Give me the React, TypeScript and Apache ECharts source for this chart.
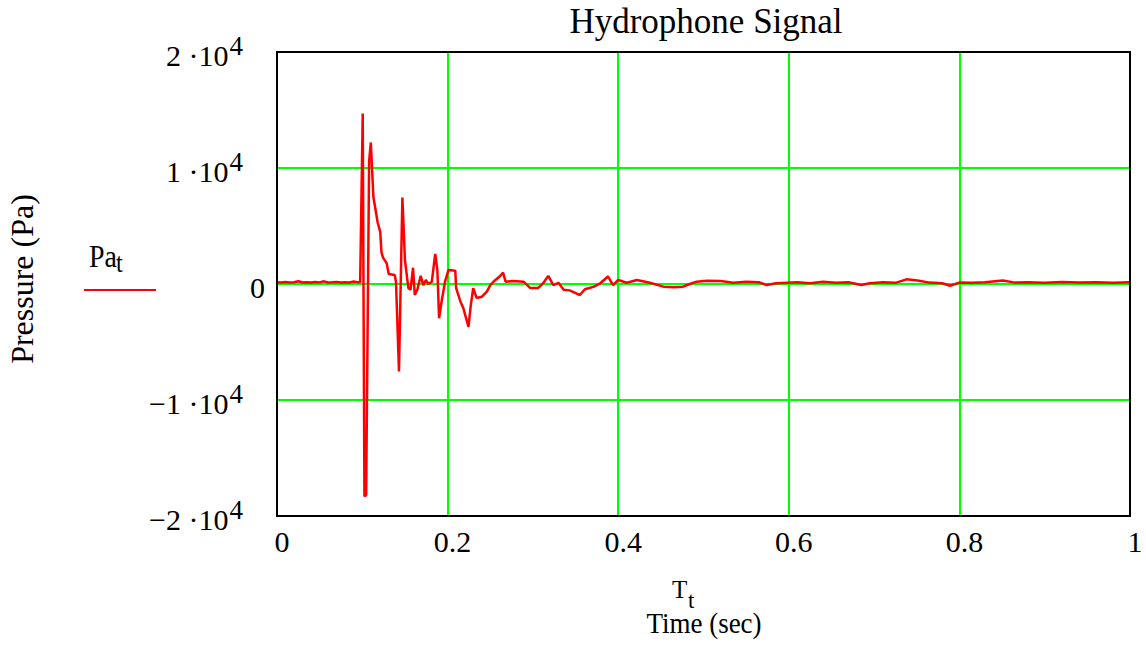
import React, { useEffect, useRef } from "react";
import * as echarts from "echarts";

const chartTitle = "Hydrophone Signal";
const yAxisTitle = "Pressure (Pa)";
const xAxisSymbol = "T";
const xAxisSub = "t";
const xAxisTitle = "Time (sec)";
const legendName = "Pa";
const legendSub = "t";

const xTicks = [0, 0.2, 0.4, 0.6, 0.8, 1];
const yTicks = [-20000, -10000, 0, 10000, 20000];

// time (s)
const timeValues = [
  0.0, 0.005, 0.01, 0.015, 0.02, 0.025, 0.03, 0.035, 0.04, 0.045, 0.05, 0.055, 0.06, 0.065, 0.07, 0.075,
  0.08, 0.085, 0.09, 0.095, 0.0975, 0.1005, 0.1025, 0.1045, 0.108, 0.11, 0.113, 0.116, 0.118, 0.121,
  0.1225, 0.1245, 0.1285, 0.131, 0.138, 0.1395, 0.143, 0.147, 0.15, 0.154, 0.1565, 0.1595, 0.1615,
  0.1645, 0.1685, 0.1715, 0.1745, 0.1775, 0.1815, 0.1855, 0.188, 0.19, 0.193, 0.197, 0.201, 0.209,
  0.21, 0.215, 0.2185, 0.2245, 0.227, 0.23, 0.234, 0.24, 0.246, 0.25, 0.256, 0.261, 0.265, 0.268,
  0.277, 0.289, 0.297, 0.306, 0.312, 0.318, 0.324, 0.33, 0.336, 0.343, 0.351, 0.355, 0.361, 0.371,
  0.379, 0.388, 0.394, 0.4, 0.41, 0.422, 0.437, 0.453, 0.465, 0.476, 0.484, 0.492, 0.504, 0.52,
  0.535, 0.55, 0.565, 0.574, 0.585, 0.598, 0.61, 0.625, 0.64, 0.655, 0.67, 0.685, 0.695, 0.71,
  0.725, 0.738, 0.751, 0.765, 0.78, 0.789, 0.8, 0.815, 0.83, 0.851, 0.865, 0.88, 0.9, 0.92,
  0.94, 0.96, 0.98, 1.0,
];

// pressure (Pa)
const pressureValues = [
  150, 120, 180, 130, 150, 240, 130, 160, 120, 170, 140, 230, 130, 150, 180, 120,
  160, 130, 210, 140, 180, 14700, -18300, -18200, 10600, 12200, 7500, 6200, 5300, 4500,
  2700, 2250, 1800, 860, 780, 200, -7550, 7450, 2050, -350, -500, 1400, -950,
  -500, 700, -100, 350, 0, 200, 2600, 1200, -2950, -1500, 200, 1200, 1150,
  -350, -1500, -2100, -3700, -1950, -350, -1200, -1100, -650, -100, 350, 650, 980, 200,
  250, 200, -350, -350, 60, 700, -100, 100, -500, -550, -800, -950, -450, -250,
  60, 650, -100, 350, 110, 340, 110, -230, -290, -230, 0, 200, 280, 250,
  110, 200, 150, -90, 60, 110, 150, 60, 200, 100, 150, -90, 60, 150,
  100, 400, 300, 120, 60, -150, 120, 100, 150, 300, 120, 150, 100, 180,
  120, 150, 110, 150,
];

const FONT = "'Liberation Serif', 'Times New Roman', serif";

function txt(x: number, y: number, text: string, fontSize: number, align: string, extra: any = {}) {
  return {
    type: "text",
    x,
    y,
    ...extra,
    style: {
      text,
      fontFamily: FONT,
      fontSize,
      fill: "#000",
      align,
      textAlign: align,
      verticalAlign: "middle",
      textVerticalAlign: "middle",
    },
  };
}

export default function App() {
  const ref = useRef<HTMLDivElement>(null);

  useEffect(() => {
    if (!ref.current) return;
    const chart = echarts.init(ref.current, undefined, { renderer: "svg" });
    const data = timeValues.map((t, i) => [t, pressureValues[i]]);

    const gridLeft = 277;
    const gridTop = 52;
    const gridWidth = 853;
    const gridHeight = 464;

    chart.setOption({
      animation: false,
      backgroundColor: "#ffffff",
      grid: { left: gridLeft, top: gridTop, width: gridWidth, height: gridHeight, containLabel: false },
      xAxis: {
        type: "value",
        min: xTicks[0],
        max: xTicks[xTicks.length - 1],
        interval: 0.2,
        axisLine: { show: false },
        axisTick: { show: false },
        splitLine: { show: true, lineStyle: { color: "#00ff00", width: 2 } },
        axisLabel: {
          color: "#000",
          fontFamily: FONT,
          fontSize: 30,
          margin: 10,
          padding: [0, 0, 0, 10],
          formatter: (v: number) => String(Math.round(v * 10) / 10),
        },
      },
      yAxis: {
        type: "value",
        min: yTicks[0],
        max: yTicks[yTicks.length - 1],
        interval: 10000,
        axisLine: { show: false },
        axisTick: { show: false },
        splitLine: { show: true, lineStyle: { color: "#00ff00", width: 2 } },
        axisLabel: {
          margin: 12,
          formatter: (v: number) => {
            if (v === 0) return "{m|0}";
            const n = v / 10000;
            const s = (n < 0 ? "\u2212" : "") + Math.abs(n);
            return `{m|${s} \u00b710}{s|4}`;
          },
          rich: {
            m: { fontFamily: FONT, fontSize: 30, color: "#000", lineHeight: 40, padding: [7, 0, 0, 0] },
            s: { fontFamily: FONT, fontSize: 27, color: "#000", lineHeight: 26, verticalAlign: "top", padding: [0, 22, 0, 1] },
          },
        },
      },
      series: [
        {
          type: "line",
          name: legendName,
          data,
          showSymbol: false,
          symbol: "none",
          lineStyle: { color: "#ff0000", width: 2.5 },
          z: 5,
        },
      ],
      graphic: [
        {
          type: "rect",
          z: 100,
          shape: { x: gridLeft, y: gridTop, width: gridWidth, height: gridHeight },
          style: { fill: "none", stroke: "#000", lineWidth: 2 },
          silent: true,
        },
        txt(706, 21, chartTitle, 35, "center"),
        txt(22, 279, yAxisTitle, 32, "center", { rotation: Math.PI / 2 }),
        txt(672, 589.5, xAxisSymbol, 25, "left"),
        txt(688, 600, xAxisSub, 23, "left"),
        txt(704, 623, xAxisTitle, 30, "center", { scaleX: 0.9 }),
        txt(89, 256.5, legendName, 31, "left", { scaleX: 0.9 }),
        txt(116, 263, legendSub, 27, "left", { scaleX: 0.9 }),
        {
          type: "line",
          shape: { x1: 84, y1: 290, x2: 156, y2: 290 },
          style: { stroke: "#ff0000", lineWidth: 2 },
        },
      ],
    });

    return () => chart.dispose();
  }, []);

  return <div ref={ref} style={{ position: "fixed", left: 0, top: 0, width: 1146, height: 652 }} />;
}
